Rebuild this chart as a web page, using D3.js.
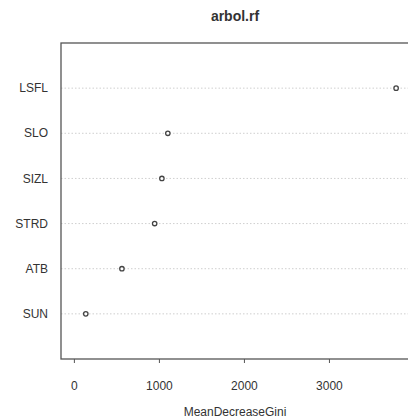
<!DOCTYPE html>
<html><head><meta charset="utf-8">
<script src="https://cdn.jsdelivr.net/npm/d3@7"></script>
<style>body{margin:0;background:#fff}svg{display:block}text{font-family:"Liberation Sans",Arial,sans-serif;fill:#333}</style>
</head><body>
<script>
const categories = ["LSFL","SLO","SIZL","STRD","ATB","SUN"];
const values = [3790, 1105, 1035, 950, 565, 140];
const xTicks = [0, 1000, 2000, 3000];
const title = "arbol.rf";
const xLabel = "MeanDecreaseGini";

const W = 408, H = 418;
const L = 61, R = 409, T = 43, B = 359;
const svg = d3.select("body").append("svg").attr("width", W).attr("height", H);

const xmax = d3.max(values), ext = 0.04 * xmax;
const x = d3.scaleLinear().domain([0 - ext, xmax + ext]).range([L, R]);
const y = d3.scaleLinear().domain([0, categories.length + 1]).range([B, T]);
const rowPos = (i) => y(categories.length - i);

// grid lines
svg.append("g").selectAll("line").data(categories).join("line")
  .attr("x1", L).attr("x2", R)
  .attr("y1", (d,i) => rowPos(i)).attr("y2", (d,i) => rowPos(i))
  .attr("stroke", "#cfcfcf").attr("stroke-width", 1).attr("stroke-dasharray", "1.5,2");

// box
svg.append("rect").attr("x", L).attr("y", T).attr("width", R - L).attr("height", B - T)
  .attr("fill", "none").attr("stroke", "#555").attr("stroke-width", 1.3);

// points
svg.append("g").selectAll("circle").data(values).join("circle")
  .attr("cx", d => x(d)).attr("cy", (d,i) => rowPos(i)).attr("r", 2.2)
  .attr("fill", "#fff").attr("stroke", "#444").attr("stroke-width", 1.3);

// y labels
svg.append("g").selectAll("text").data(categories).join("text")
  .attr("x", 48).attr("y", (d,i) => rowPos(i)).attr("dy", "0.35em")
  .attr("text-anchor", "end").attr("font-size", 12).text(d => d);

// x axis
const ax = svg.append("g").attr("transform", `translate(0,${B})`)
  .call(d3.axisBottom(x).tickValues(xTicks).tickSize(4).tickPadding(18).tickFormat(d3.format("d")));
ax.select(".domain").remove();
ax.selectAll("line").attr("stroke", "#555");
ax.selectAll("text").attr("font-size", 12).attr("fill", "#333").style("font-family", '"Liberation Sans",Arial,sans-serif');

svg.append("text").attr("x", (L + R) / 2).attr("y", 16).attr("dy", "0.35em")
  .attr("text-anchor", "middle").attr("font-size", 14).attr("font-weight", "bold").text(title);
svg.append("text").attr("x", (L + R) / 2).attr("y", 412).attr("dy", "0.35em")
  .attr("text-anchor", "middle").attr("font-size", 12).text(xLabel);
</script>
</body></html>
